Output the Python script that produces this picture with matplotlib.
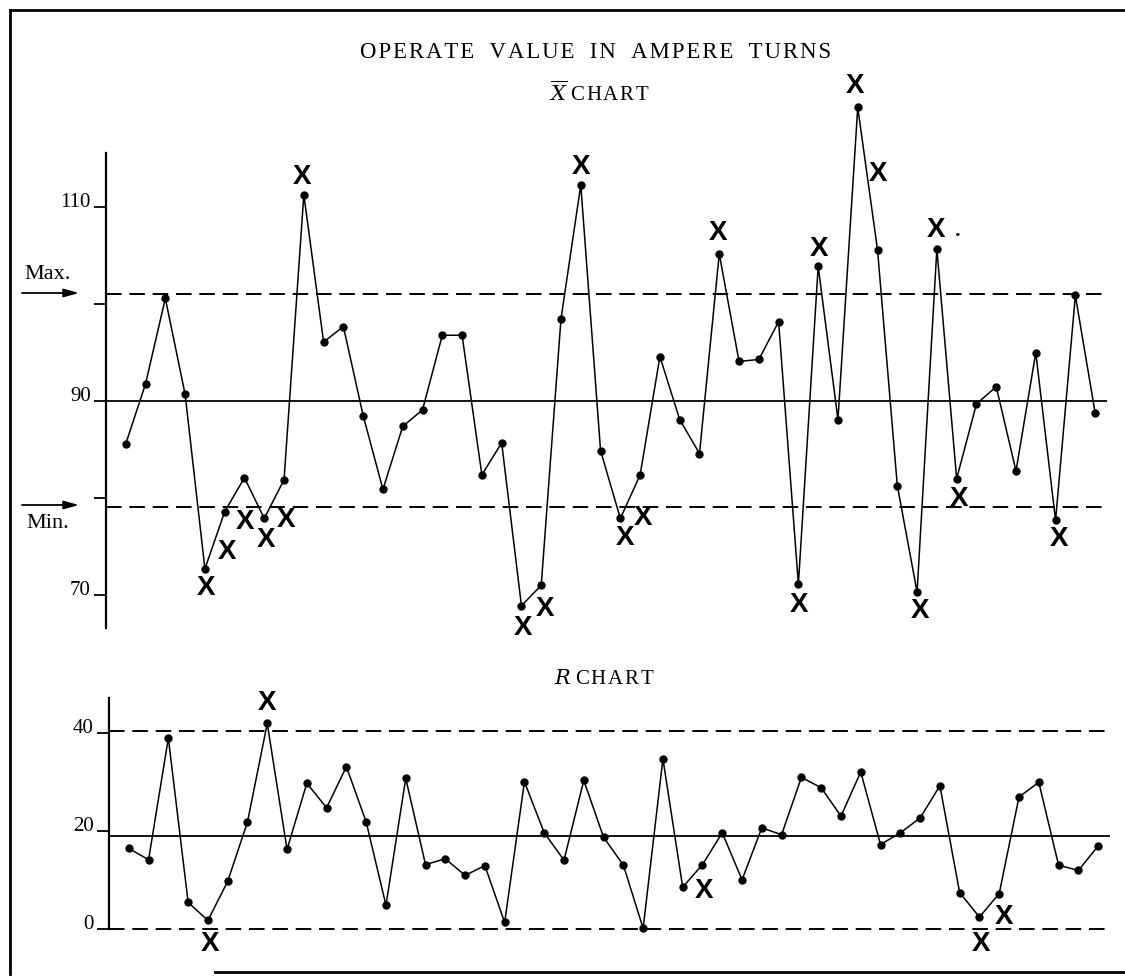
import numpy as np
import matplotlib
matplotlib.use("Agg")
import matplotlib.pyplot as plt
from matplotlib.lines import Line2D

plt.rcParams['font.family'] = ['Liberation Serif', 'DejaVu Serif']
plt.rcParams['mathtext.fontset'] = 'dejavuserif'

# ---------------------------------------------------------------------------
# data: 50 samples, operate value in ampere turns

xbar = [85.6, 91.8, 100.6, 90.7, 72.7, 78.6, 82.1, 77.9, 81.9, 111.3,
        96.1, 97.7, 88.5, 80.9, 87.4, 89.1, 96.8, 96.8, 82.4, 85.7,
        68.9, 71.0, 98.5, 112.3, 84.9, 77.9, 82.4, 94.6, 88.1, 84.6,
        105.2, 94.1, 94.3, 98.2, 71.1, 103.9, 88.1, 120.3, 105.6, 81.3,
        70.3, 105.7, 82.0, 89.7, 91.5, 82.8, 95.0, 77.7, 100.9, 88.8]

rng = [16.5, 14.2, 39.0, 5.5, 1.8, 9.8, 21.9, 42.0, 16.3, 29.8,
       24.8, 33.2, 21.9, 4.9, 30.8, 13.2, 14.4, 11.0, 13.0, 1.4,
       30.1, 19.7, 14.1, 30.4, 18.8, 13.1, 0.2, 34.8, 8.6, 13.2,
       19.7, 10.1, 20.7, 19.3, 31.0, 28.9, 23.1, 32.1, 17.3, 19.7,
       22.7, 29.3, 7.5, 2.5, 7.3, 27.0, 30.0, 13.1, 12.0, 17.0]

xbar_center, xbar_max, xbar_min = 90.0, 101.1, 79.1
r_center, r_upper, r_lower = 19.1, 40.4, 0.0

# hand-written X marks (sample position, value)
xbar_marks_x = [5.06, 6.14, 7.03, 8.09, 9.09, 9.9, 21.06, 22.17, 24.0, 26.23,
                27.14, 30.93, 35.03, 36.03, 37.86, 39.04, 41.17, 41.96, 43.12, 48.15]
xbar_marks_y = [70.7, 74.4, 77.5, 75.7, 77.7, 113.1, 66.6, 68.6, 114.2, 75.9,
                77.9, 107.3, 69.0, 105.7, 122.5, 113.4, 68.4, 107.7, 79.9, 75.8]
r_marks_x = [5.09, 7.99, 30.09, 44.06, 45.25]
r_marks_y = [-3.1, 46.2, 7.8, -2.9, 2.5]

xbar_ticks = [70, 90, 110]
xbar_minor = [80, 100]
r_ticks = [0, 20, 40]

# ---------------------------------------------------------------------------

W, H = 1125, 976
fig = plt.figure(figsize=(W / 100, H / 100), dpi=100)
fig.patch.set_facecolor('white')

HAIR = '\u200a'


def spaced(words, gap=' '):
    # slightly letter-spaced caps, as set in the printed heading
    return (HAIR + gap + HAIR).join(HAIR.join(w) for w in words.split())


def axes_px(left, top, right, bottom):
    return fig.add_axes([left / W, 1 - bottom / H, (right - left) / W, (bottom - top) / H])


def style(ax, ticks, minor=()):
    for side in ('top', 'right', 'bottom'):
        ax.spines[side].set_visible(False)
    ax.spines['left'].set_linewidth(1.6)
    ax.set_xticks([])
    ax.set_yticks(ticks)
    ax.set_yticks(minor, minor=True)
    ax.tick_params(axis='y', direction='out', length=9, width=1.3, pad=2,
                   labelsize=15)
    ax.tick_params(axis='y', which='minor', direction='out', length=9, width=1.3)
    for lbl in ax.get_yticklabels():
        lbl.set_va('baseline')
    ax.patch.set_alpha(0)


def x_marks(ax, xs, ys):
    for mx, my in zip(xs, ys):
        ax.text(mx, my, 'X', family='Liberation Sans', fontweight='bold',
                fontsize=20, ha='center', va='center', clip_on=False)


n = np.arange(1, len(xbar) + 1)
x_end = 50.6
dash = (0, (8, 4))

# X-bar chart
ax1 = axes_px(106, 153, 1107, 628)
ax1.set_xlim(0, x_end)
ax1.set_ylim(66.6, 115.6)
style(ax1, xbar_ticks, xbar_minor)
ax1.hlines(xbar_center, 0, x_end, color='black', lw=1.3, clip_on=False)
ax1.hlines([xbar_max, xbar_min], 0, x_end, color='black', lw=1.4,
           linestyles=[dash], clip_on=False)
ax1.plot(n, xbar, color='black', lw=1.1, marker='o', ms=5, clip_on=False, zorder=3)
x_marks(ax1, xbar_marks_x, xbar_marks_y)
ax1.text(43.05, 107.6, '.', fontsize=16, fontweight='bold', ha='center',
         va='center', clip_on=False)

# R chart
ax2 = axes_px(109, 698, 1110, 929.3)
ax2.set_xlim(0, x_end)
ax2.set_ylim(0, 47.2)
style(ax2, r_ticks)
ax2.hlines(r_center, 0, x_end, color='black', lw=1.3, clip_on=False)
ax2.hlines([r_upper, r_lower], 0, x_end, color='black', lw=1.4,
           linestyles=[dash], clip_on=False)
ax2.plot(n, rng, color='black', lw=1.1, marker='o', ms=5, clip_on=False, zorder=3)
x_marks(ax2, r_marks_x, r_marks_y)

# headings
fig.text(596 / W, 1 - 52 / H, spaced('OPERATE VALUE IN AMPERE TURNS', '  '),
         fontsize=16.5, ha='center', va='center')
fig.text(599 / W, 1 - 94 / H, r'$\overline{X}$ ' + spaced('CHART'), fontsize=15,
         ha='center', va='center')
fig.text(604 / W, 1 - 679 / H, r'$R$ ' + spaced('CHART'), fontsize=15,
         ha='center', va='center')

# Max / Min arrows
for label, y_line, y_text in (('Max.', 293, 274), ('Min.', 505, 524)):
    fig.text(48 / W, 1 - y_text / H, label, fontsize=16, ha='center', va='center')
    ax1.annotate('', xy=(79, H - y_line), xytext=(22, H - y_line),
                 xycoords='figure pixels', textcoords='figure pixels',
                 arrowprops=dict(arrowstyle='-|>,head_length=0.9,head_width=0.25',
                                 color='black', lw=1.3, shrinkA=0, shrinkB=0))

# outer frame
frame = [((10, 10), (1125, 10)), ((10, 10), (10, 974)), ((215, 972), (1125, 972))]
for (x0, y0), (x1, y1) in frame:
    fig.add_artist(Line2D([x0 / W, x1 / W], [1 - y0 / H, 1 - y1 / H],
                          transform=fig.transFigure, color='black', lw=2))

fig.savefig('out.png', dpi=100)
